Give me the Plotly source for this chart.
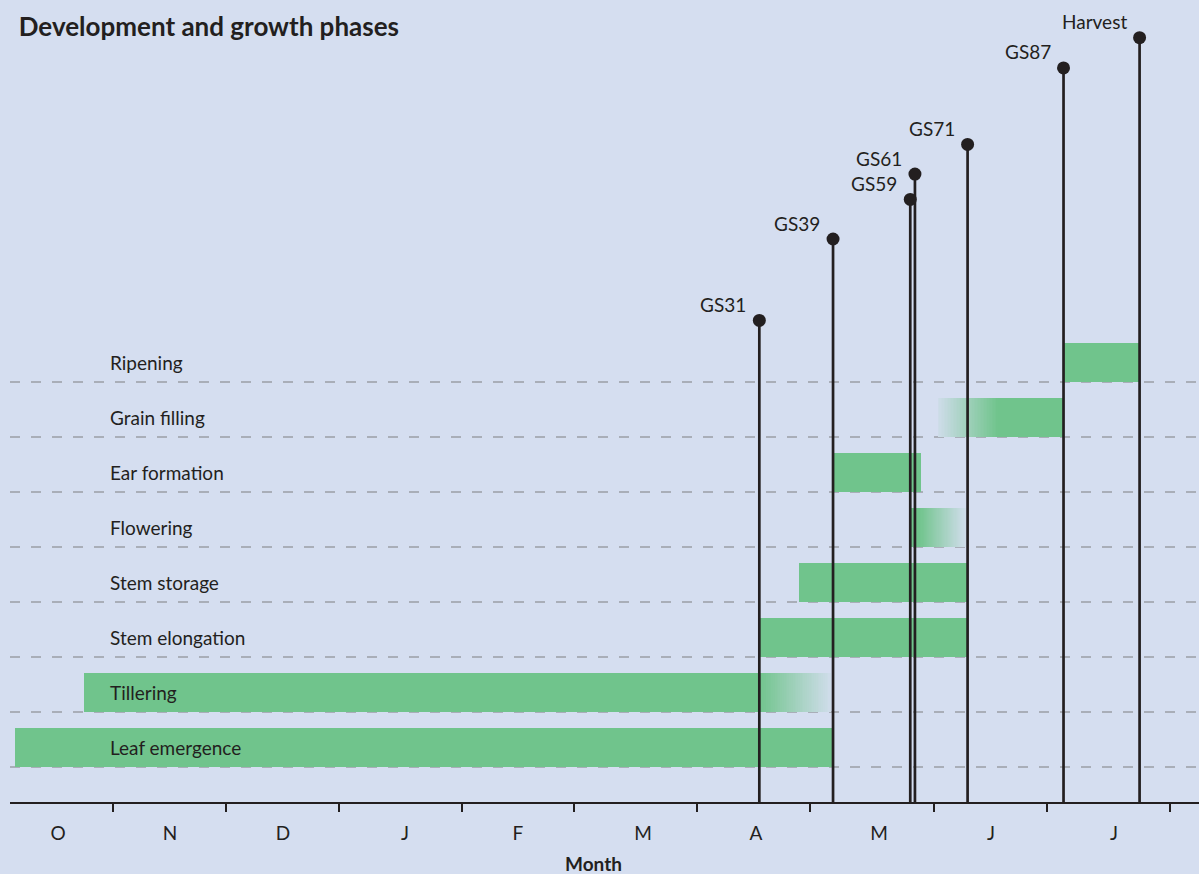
import plotly.graph_objects as go

# ---------------- data (x in months from 1 October) ----------------
phases = ["Leaf emergence", "Tillering", "Stem elongation", "Stem storage",
          "Flowering", "Ear formation", "Grain filling", "Ripening"]
phase_start = [0.13, 0.72, 6.49, 6.83, 7.79, 7.12, 8.02, 9.09]
phase_end = [7.12, 7.10, 8.27, 8.27, 8.25, 7.87, 9.09, 9.74]
fade_in = [0, 0, 0, 0, 0, 0, 0.51, 0]       # uncertain onset (fades in)
fade_out = [0, 0.61, 0, 0, 0.39, 0, 0, 0]    # uncertain end (fades out)

stages = ["GS31", "GS39", "GS59", "GS61", "GS71", "GS87", "Harvest"]
stage_x = [6.49, 7.12, 7.78, 7.82, 8.27, 9.09, 9.74]
stage_h = [8.12, 9.60, 10.32, 10.78, 11.32, 12.71, 13.26]

month_labels = ["O", "N", "D", "J", "F", "M", "A", "M", "J", "J"]
month_bounds = [0.966, 1.932, 2.897, 3.949, 4.906, 5.957, 6.923, 7.983, 8.949, 10.0]
month_centers = [0.496, 1.453, 2.419, 3.462, 4.427, 5.496, 6.462, 7.513, 8.470, 9.521]

# ---------------- style ----------------
BG = "#D5DEF0"
GREEN = "#70C48C"
INK = "#231F20"
GRID = "#A9AEB8"
FONT = "Lato"
BAR_H = 0.71
Y0 = -0.636
X_RANGE = [10 / 117, 1199 / 117]
Y_RANGE = [Y0, Y0 + 802 / 55]


def hex2rgb(h):
    h = h.lstrip("#")
    return tuple(int(h[i:i + 2], 16) for i in (0, 2, 4))


def blend(a):
    b, g = hex2rgb(BG), hex2rgb(GREEN)
    c = [round(b[k] * (1 - a) + g[k] * a) for k in range(3)]
    return f"rgb({c[0]},{c[1]},{c[2]})"


seg_y, seg_base, seg_len, seg_col = [], [], [], []
N = 40
A_MIN = 0.06
for i, name in enumerate(phases):
    s, e = phase_start[i], phase_end[i]
    fi, fo = fade_in[i], fade_out[i]
    ss, se = s + fi, e - fo
    yc = i + BAR_H / 2
    seg_y.append(yc); seg_base.append(ss); seg_len.append(se - ss); seg_col.append(GREEN)
    if fi > 0:
        w = fi / N
        for k in range(N):
            a = A_MIN + (1 - A_MIN) * (k + 0.5) / N
            seg_y.append(yc); seg_base.append(s + k * w); seg_len.append(w * 1.02); seg_col.append(blend(a))
    if fo > 0:
        w = fo / N
        for k in range(N):
            a = 1 - (1 - A_MIN) * (k + 0.5) / N
            seg_y.append(yc); seg_base.append(se + k * w); seg_len.append(w * 1.02); seg_col.append(blend(a))

fig = go.Figure()
fig.add_trace(go.Bar(
    orientation="h", y=seg_y, x=seg_len, base=seg_base, width=BAR_H,
    marker=dict(color=seg_col, line=dict(width=0)),
    hoverinfo="skip", showlegend=False,
))

# stems
lx, ly = [], []
for x, h in zip(stage_x, stage_h):
    lx += [x, x, None]
    ly += [Y0, h, None]
fig.add_trace(go.Scatter(x=lx, y=ly, mode="lines", line=dict(color=INK, width=2.7),
                         hoverinfo="skip", showlegend=False))
fig.add_trace(go.Scatter(x=stage_x, y=stage_h, mode="markers",
                         marker=dict(color=INK, size=13), hoverinfo="skip",
                         showlegend=False, cliponaxis=False))
# dummy trace so that the label axis exists
fig.add_trace(go.Scatter(x=[], y=[], xaxis="x2", yaxis="y", showlegend=False))

annotations = []
for name, x, h in zip(stages, stage_x, stage_h):
    annotations.append(dict(x=x, y=h, xref="x", yref="y", text=name, showarrow=False,
                            xanchor="right", yanchor="middle", xshift=-11, yshift=16,
                            font=dict(family=FONT, size=19, color=INK)))
for i, name in enumerate(phases):
    annotations.append(dict(x=0.925, y=i + BAR_H / 2, xref="x", yref="y", text=name,
                            showarrow=False, xanchor="left", yanchor="middle",
                            font=dict(family=FONT, size=19, color=INK)))
annotations.append(dict(x=(593.5 - 10) / 1189, y=-(863 - 802) / 802, xref="paper", yref="paper",
                        text="<b>Month</b>", showarrow=False, xanchor="center", yanchor="middle",
                        font=dict(family=FONT, size=19, color=INK)))

fig.update_layout(
    width=1199, height=874,
    margin=dict(l=10, r=0, t=0, b=72),
    paper_bgcolor=BG, plot_bgcolor=BG,
    barmode="overlay", bargap=0,
    title=dict(text="<b>Development and growth phases</b>", x=399 / 1199, xref="container",
               xanchor="right", y=1 - 27 / 874, yref="container", yanchor="middle",
               font=dict(family=FONT, size=26, color=INK)),
    xaxis=dict(range=X_RANGE, tickvals=month_bounds, ticktext=[""] * len(month_bounds),
               ticks="outside", ticklen=8, tickwidth=1.6, tickcolor=INK,
               showline=True, linecolor=INK, linewidth=1.6,
               showgrid=False, zeroline=False, fixedrange=True),
    xaxis2=dict(range=X_RANGE, overlaying="x", anchor="y", side="bottom",
                tickvals=month_centers, ticktext=month_labels, ticks="",
                showline=False, showgrid=False, zeroline=False,
                ticklabelstandoff=18,
                tickfont=dict(family=FONT, size=19, color=INK)),
    yaxis=dict(range=Y_RANGE, tickvals=list(range(len(phases))), showticklabels=False,
               showgrid=True, gridcolor=GRID, gridwidth=2, griddash="10px,11px",
               zeroline=False, showline=False, ticks=""),
    annotations=annotations,
    font=dict(family=FONT, color=INK),
)

fig.write_html("out.html", config={"displayModeBar": False},
               post_script="document.body.style.margin='0px';")
